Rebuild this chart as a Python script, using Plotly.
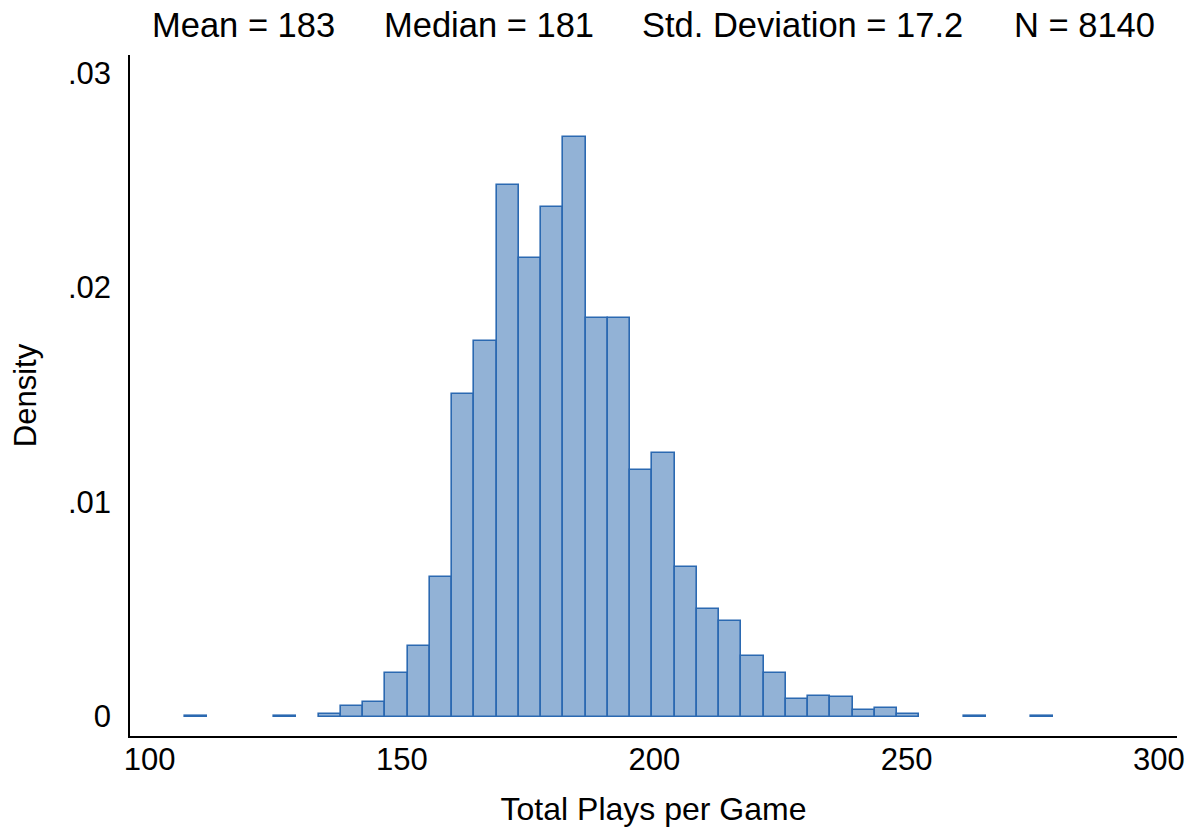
import plotly.graph_objects as go

# Histogram of total plays per game (39 bins between min and max)
data_min = 107
data_max = 279
n_bins = 39
density = [
    0.00003, 0, 0, 0, 0.00003, 0, 0.00011, 0.00047, 0.00069, 0.00203,
    0.00328, 0.00652, 0.01505, 0.01750, 0.02479, 0.02138, 0.02374, 0.02702, 0.01857, 0.01857,
    0.01150, 0.01228, 0.00697, 0.00500, 0.00444, 0.00281, 0.00203, 0.00084, 0.00095, 0.00091,
    0.00030, 0.00039, 0.00010, 0, 0, 0.00003, 0, 0, 0.00003,
]
stats_labels = ["Mean = 183", "Median = 181", "Std. Deviation = 17.2", "N = 8140"]
x_ticks = [100, 150, 200, 250, 300]
y_ticks = [0, 0.01, 0.02, 0.03]
y_ticktext = ["0", ".01", ".02", ".03"]

bin_w = (data_max - data_min) / n_bins
centers = [data_min + (i + 0.5) * bin_w for i in range(n_bins)]
y_plot = [d if d > 0 else None for d in density]

FONT = "Liberation Sans, Arial, Helvetica, sans-serif"
W, H = 1191, 829
ml, mr, mt, mb = 130, 14, 55, 93

fig = go.Figure(go.Bar(
    x=centers, y=y_plot, width=bin_w,
    marker=dict(color="#92B2D6", line=dict(color="#2B69B1", width=1.6)),
))

fig.update_layout(
    width=W, height=H,
    margin=dict(l=ml, r=mr, t=mt, b=mb, pad=0),
    plot_bgcolor="white", paper_bgcolor="white",
    showlegend=False, bargap=0,
    font=dict(family=FONT, color="black", size=28),
)
fig.update_xaxes(
    range=[96.1, 303.6], tickvals=x_ticks, showgrid=False, zeroline=False,
    showline=True, linecolor="black", linewidth=1.5, ticks="", automargin=False,
    ticklabelstandoff=-5, tickfont=dict(size=31),
    title=dict(text="Total Plays per Game", font=dict(size=32), standoff=22),
)
fig.update_yaxes(
    range=[-0.000905, 0.03083], tickvals=y_ticks, ticktext=y_ticktext,
    showgrid=False, zeroline=False, showline=True, linecolor="black", linewidth=1.5,
    ticks="", automargin=False, ticklabelstandoff=11, tickfont=dict(size=31),
    title=dict(text="Density", font=dict(size=31), standoff=22),
)

pw = W - ml - mr
ph = H - mt - mb
starts_px = [153, 385, 643, 1015]
for lbl, px in zip(stats_labels, starts_px):
    fig.add_annotation(
        text=lbl, xref="paper", yref="paper", x=(px - 3 - ml) / pw, xanchor="left",
        y=1 + (mt - 25) / ph, yanchor="middle", showarrow=False,
        font=dict(size=34.5, family=FONT),
    )

fig.write_html(
    "out.html",
    config={"displayModeBar": False},
    post_script="document.body.style.margin='0';document.body.style.overflow='hidden';",
)
